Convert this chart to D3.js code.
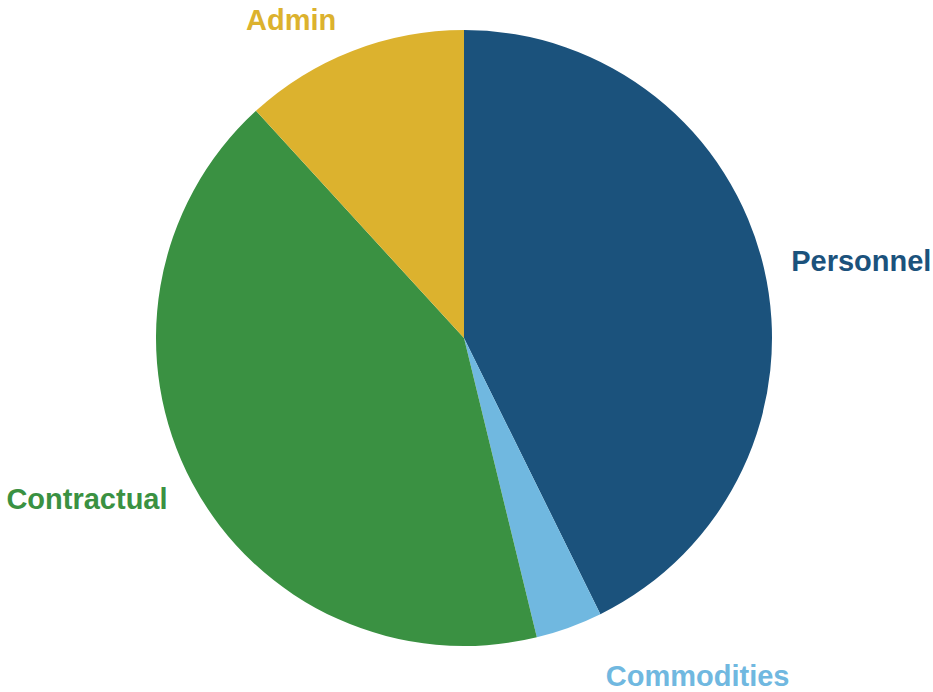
<!DOCTYPE html>
<html>
<head>
<meta charset="utf-8">
<script src="https://cdn.jsdelivr.net/npm/d3@7"></script>
<style>
  html, body { margin: 0; padding: 0; background: #ffffff; }
  svg { display: block; }
  .slice-label { font-family: "Liberation Sans", Arial, sans-serif; font-weight: bold; font-size: 29px; }
</style>
</head>
<body>
<svg id="chart" width="933" height="692"></svg>
<script>
// Budget share by category (percent)
const categories = ["Personnel", "Commodities", "Contractual", "Admin"];
const values = [42.7, 3.5, 42.0, 11.8];
const colors = ["#1b527c", "#70b8e0", "#3a9142", "#dcb22e"];

const width = 933, height = 692;
const cx = 464, cy = 338, radius = 308;
// label ring (slightly wider horizontally)
const labelRx = 336, labelRy = 342;
// small nudges so labels clear the pie edge
const labelNudge = { Commodities: [27, 16], Admin: [-6, 0] };

const svg = d3.select("#chart");
const g = svg.append("g").attr("transform", `translate(${cx},${cy})`);

const data = categories.map((c, i) => ({ name: c, value: values[i], color: colors[i] }));

const pie = d3.pie().value(d => d.value).sort(null);
const arc = d3.arc().innerRadius(0).outerRadius(radius);
const arcs = pie(data);

g.selectAll("path.slice")
  .data(arcs)
  .join("path")
  .attr("class", "slice")
  .attr("d", arc)
  .attr("fill", d => d.data.color);

g.selectAll("text.slice-label")
  .data(arcs)
  .join("text")
  .attr("class", "slice-label")
  .attr("x", d => {
    const a = (d.startAngle + d.endAngle) / 2;
    const n = labelNudge[d.data.name] || [0, 0];
    return Math.sin(a) * labelRx + n[0];
  })
  .attr("y", d => {
    const a = (d.startAngle + d.endAngle) / 2;
    const n = labelNudge[d.data.name] || [0, 0];
    return -Math.cos(a) * labelRy + n[1];
  })
  .attr("dy", "0.36em")
  .attr("text-anchor", d => {
    const a = (d.startAngle + d.endAngle) / 2;
    return Math.sin(a) >= 0 ? "start" : "end";
  })
  .attr("fill", d => d.data.color)
  .text(d => d.data.name);
</script>
</body>
</html>
